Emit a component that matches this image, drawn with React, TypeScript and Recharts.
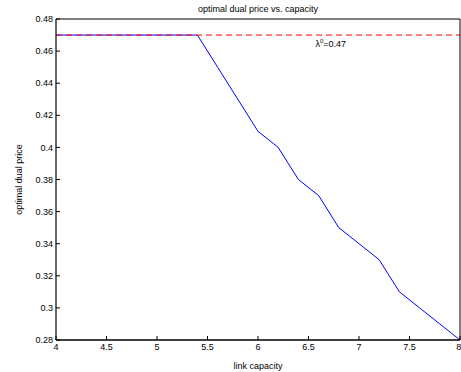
import React from 'react';
import { LineChart, Line, XAxis, YAxis, ReferenceDot } from 'recharts';

const capacities = [4.0, 4.2, 4.4, 4.6, 4.8, 5.0, 5.2, 5.4, 5.6, 5.8, 6.0, 6.2, 6.4, 6.6, 6.8, 7.0, 7.2, 7.4, 7.6, 7.8, 8.0];
const dualPrices = [0.47, 0.47, 0.47, 0.47, 0.47, 0.47, 0.47, 0.47, 0.45, 0.43, 0.41, 0.40, 0.38, 0.37, 0.35, 0.34, 0.33, 0.31, 0.30, 0.29, 0.28];
const xTicks = [4, 4.5, 5, 5.5, 6, 6.5, 7, 7.5, 8];
const yTicks = [0.28, 0.3, 0.32, 0.34, 0.36, 0.38, 0.4, 0.42, 0.44, 0.46, 0.48];
const lambda0 = 0.47;
const lambdaLabelPos = { x: 6.72, y: 0.4645 };
const titleText = 'optimal dual price vs. capacity';
const xLabelText = 'link capacity';
const yLabelText = 'optimal dual price';

const data = capacities.map((c, i) => ({ cap: c, price: dualPrices[i] }));
const refData = [
  { cap: xTicks[0], ref: lambda0 },
  { cap: xTicks[xTicks.length - 1], ref: lambda0 },
];

const FONT = '"Liberation Sans", Arial, Helvetica, sans-serif';
const tickStyle = { fontSize: 9, fill: '#000', fontFamily: FONT };

export default function App() {
  return (
    <div style={{ position: 'absolute', left: 0, top: 0 }}>
      <LineChart
        width={461}
        height={372}
        margin={{ top: 18, right: 0, bottom: 0, left: 0 }}
        style={{ fontFamily: FONT, background: '#fff' }}
      >
        <XAxis
          xAxisId={0}
          dataKey="cap"
          type="number"
          domain={[4, 8]}
          ticks={xTicks}
          allowDataOverflow
          height={32}
          stroke="#000"
          tickSize={-4}
          tickMargin={8}
          tick={tickStyle}
          tickLine={{ stroke: '#000' }}
          axisLine={{ stroke: '#000', strokeWidth: 1.5 }}
          label={{
            content: ({ viewBox }: any) => (
              <text
                x={viewBox.x + viewBox.width / 2}
                y={viewBox.y + 27}
                textAnchor="middle"
                dominantBaseline="middle"
                fontSize={9}
                fill="#000"
                fontFamily={FONT}
              >
                {xLabelText}
              </text>
            ),
          }}
        />
        <XAxis
          xAxisId="top"
          orientation="top"
          dataKey="cap"
          type="number"
          domain={[4, 8]}
          ticks={xTicks}
          allowDataOverflow
          height={1}
          stroke="#000"
          tickSize={-4}
          tick={false}
          tickLine={{ stroke: '#000' }}
          axisLine={{ stroke: '#000' }}
          label={{
            content: ({ viewBox }: any) => (
              <text
                x={viewBox.x + viewBox.width / 2}
                y={viewBox.y + viewBox.height - 9}
                textAnchor="middle"
                dominantBaseline="middle"
                fontSize={9}
                fill="#000"
                fontFamily={FONT}
              >
                {titleText}
              </text>
            ),
          }}
        />
        <YAxis
          yAxisId={0}
          type="number"
          domain={[0.28, 0.48]}
          ticks={yTicks}
          allowDataOverflow
          width={56}
          stroke="#000"
          tickSize={-4}
          tickMargin={7}
          tick={tickStyle}
          tickLine={{ stroke: '#000' }}
          axisLine={{ stroke: '#000', strokeWidth: 1.2 }}
          label={{
            content: ({ viewBox }: any) => {
              const cx = viewBox.x + 20;
              const cy = viewBox.y + viewBox.height / 2;
              return (
                <text
                  x={cx}
                  y={cy}
                  transform={`rotate(-90, ${cx}, ${cy})`}
                  textAnchor="middle"
                  dominantBaseline="middle"
                  fontSize={9}
                  fill="#000"
                  fontFamily={FONT}
                >
                  {yLabelText}
                </text>
              );
            },
          }}
        />
        <YAxis
          yAxisId="right"
          orientation="right"
          type="number"
          domain={[0.28, 0.48]}
          ticks={yTicks}
          allowDataOverflow
          width={1}
          stroke="#000"
          tickSize={-4}
          tick={false}
          tickLine={{ stroke: '#000' }}
          axisLine={{ stroke: '#000' }}
        />
        <Line
          xAxisId={0}
          yAxisId={0}
          data={data}
          dataKey="price"
          type="linear"
          stroke="#0000ff"
          strokeWidth={1}
          dot={false}
          activeDot={false}
          isAnimationActive={false}
        />
        <Line
          xAxisId={0}
          yAxisId={0}
          data={refData}
          dataKey="ref"
          type="linear"
          stroke="#ff0000"
          strokeWidth={1}
          strokeDasharray="6 4"
          dot={false}
          activeDot={false}
          isAnimationActive={false}
        />
        <ReferenceDot
          xAxisId={0}
          yAxisId={0}
          x={lambdaLabelPos.x}
          y={lambdaLabelPos.y}
          r={0}
          stroke="none"
          fill="none"
          label={{
            content: ({ viewBox }: any) => {
              const cx = viewBox.x + (viewBox.width || 0) / 2;
              const cy = viewBox.y + (viewBox.height || 0) / 2;
              return (
                <text x={cx} y={cy + 3} textAnchor="middle" fontSize={9} fill="#000" fontFamily={FONT}>
                  λ<tspan dy={-4} fontSize={6}>0</tspan>
                  <tspan dy={4}>={lambda0}</tspan>
                </text>
              );
            },
          }}
        />
      </LineChart>
    </div>
  );
}
